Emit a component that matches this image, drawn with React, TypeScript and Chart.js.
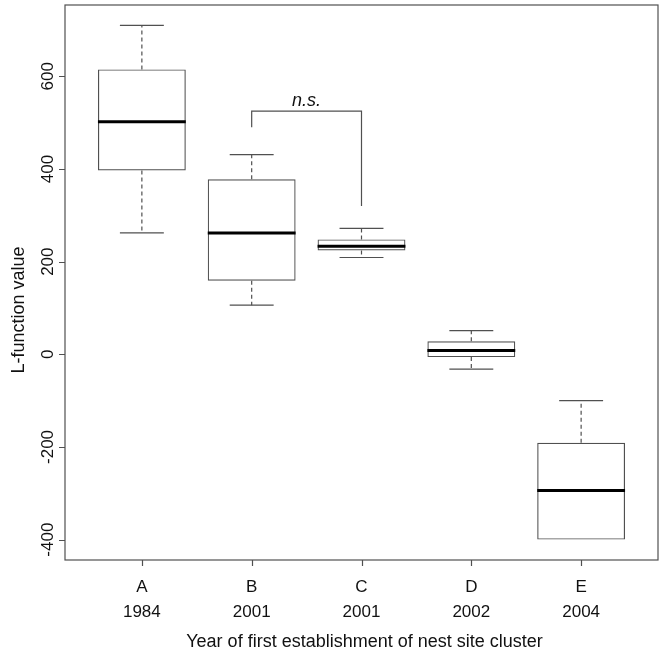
import React, { useEffect, useRef } from "react";
import { Chart, registerables } from "chart.js";

Chart.register(...registerables);

// ---- data ----
const categories = ["A", "B", "C", "D", "E"];
const years = ["1984", "2001", "2001", "2002", "2004"];
const whiskerLow = [262, 106, 209, -32, -400];
const lowerQuartile = [397, 159, 224, -6, -400];
const medianValue = [502, 262, 233, 8, -294];
const upperQuartile = [615, 378, 248, 28, -191];
const whiskerHigh = [710, 431, 272, 51, -100];

const yTickValues = [-400, -200, 0, 200, 400, 600];
const xTickPositions = [1, 2, 3, 4, 5];

// significance bracket between B (2) and C (3)
const bracketFrom = 2;
const bracketTo = 3;
const bracketTop = 525;
const bracketLeftEnd = 490;
const bracketRightEnd = 320;
const bracketLabel = "n.s.";
const bracketLabelValue = 537;

const xTitle = "Year of first establishment of nest site cluster";
const yTitle = "L-function value";

const LINE = "#505050";
const TEXT = "#111111";
const FONT = "'Liberation Sans', Arial, sans-serif";
const TICK_LEN = 6;

const rBoxPlugin = {
  id: "rBoxPlugin",
  afterDatasetsDraw(chart: any) {
    const { ctx, chartArea, scales } = chart;
    const x = scales.x;
    const y = scales.y;
    ctx.save();

    // whiskers, caps and medians
    categories.forEach((_, i) => {
      const pos = i + 1;
      const cx = x.getPixelForValue(pos);
      const capHalf = x.getPixelForValue(pos + 0.2) - cx;
      const boxHalf = x.getPixelForValue(pos + 0.4) - cx;
      const pLo = y.getPixelForValue(whiskerLow[i]);
      const pQ1 = y.getPixelForValue(lowerQuartile[i]);
      const pMed = y.getPixelForValue(medianValue[i]);
      const pQ3 = y.getPixelForValue(upperQuartile[i]);
      const pHi = y.getPixelForValue(whiskerHigh[i]);

      ctx.strokeStyle = LINE;
      ctx.lineWidth = 1.2;
      ctx.setLineDash([4, 3]);
      ctx.beginPath();
      if (whiskerHigh[i] !== upperQuartile[i]) {
        ctx.moveTo(cx, pQ3);
        ctx.lineTo(cx, pHi);
      }
      if (whiskerLow[i] !== lowerQuartile[i]) {
        ctx.moveTo(cx, pQ1);
        ctx.lineTo(cx, pLo);
      }
      ctx.stroke();
      ctx.setLineDash([]);
      ctx.beginPath();
      ctx.moveTo(cx - capHalf, pHi);
      ctx.lineTo(cx + capHalf, pHi);
      if (whiskerLow[i] !== lowerQuartile[i]) {
        ctx.moveTo(cx - capHalf, pLo);
        ctx.lineTo(cx + capHalf, pLo);
      }
      ctx.stroke();

      ctx.strokeStyle = "#000000";
      ctx.lineWidth = 3;
      ctx.beginPath();
      ctx.moveTo(cx - boxHalf, pMed);
      ctx.lineTo(cx + boxHalf, pMed);
      ctx.stroke();
    });

    // plot frame
    ctx.strokeStyle = LINE;
    ctx.lineWidth = 1.2;
    ctx.strokeRect(
      chartArea.left,
      chartArea.top,
      chartArea.right - chartArea.left,
      chartArea.bottom - chartArea.top
    );

    // tick marks
    ctx.beginPath();
    x.ticks.forEach((t: any) => {
      const px = Math.round(x.getPixelForValue(t.value)) + 0.5;
      ctx.moveTo(px, chartArea.bottom);
      ctx.lineTo(px, chartArea.bottom + TICK_LEN);
    });
    y.ticks.forEach((t: any) => {
      const py = Math.round(y.getPixelForValue(t.value)) + 0.5;
      ctx.moveTo(chartArea.left, py);
      ctx.lineTo(chartArea.left - TICK_LEN, py);
    });
    ctx.stroke();

    // bracket
    const bx1 = x.getPixelForValue(bracketFrom);
    const bx2 = x.getPixelForValue(bracketTo);
    const by = y.getPixelForValue(bracketTop);
    ctx.beginPath();
    ctx.moveTo(bx1, y.getPixelForValue(bracketLeftEnd));
    ctx.lineTo(bx1, by);
    ctx.lineTo(bx2, by);
    ctx.lineTo(bx2, y.getPixelForValue(bracketRightEnd));
    ctx.stroke();

    ctx.fillStyle = TEXT;
    ctx.font = `italic 18px ${FONT}`;
    ctx.textAlign = "center";
    ctx.textBaseline = "alphabetic";
    ctx.fillText(
      bracketLabel,
      x.getPixelForValue((bracketFrom + bracketTo) / 2),
      y.getPixelForValue(bracketLabelValue)
    );

    // y tick labels (rotated, R style)
    ctx.font = `17px ${FONT}`;
    y.ticks.forEach((t: any) => {
      ctx.save();
      ctx.translate(chartArea.left - 12, y.getPixelForValue(t.value));
      ctx.rotate(-Math.PI / 2);
      ctx.fillText(String(t.value), 0, 0);
      ctx.restore();
    });

    // x tick labels (two lines)
    x.ticks.forEach((t: any) => {
      const idx = Math.round(t.value) - 1;
      if (idx < 0 || idx >= categories.length) return;
      const px = x.getPixelForValue(t.value);
      ctx.fillText(categories[idx], px, chartArea.bottom + 32);
      ctx.fillText(years[idx], px, chartArea.bottom + 57);
    });

    // axis titles
    ctx.font = `18px ${FONT}`;
    ctx.fillText(xTitle, (chartArea.left + chartArea.right) / 2 + 3, chartArea.bottom + 87);
    ctx.save();
    ctx.translate(24, 310);
    ctx.rotate(-Math.PI / 2);
    ctx.fillText(yTitle, 0, 0);
    ctx.restore();

    ctx.restore();
  },
};

export default function App() {
  const canvasRef = useRef<HTMLCanvasElement | null>(null);

  useEffect(() => {
    document.body.style.margin = "0";
    const canvas = canvasRef.current;
    if (!canvas) return;
    const chart = new Chart(canvas, {
      type: "bar",
      data: {
        datasets: [
          {
            data: categories.map((_, i) => ({
              x: i + 1,
              y: [lowerQuartile[i], upperQuartile[i]],
            })) as any,
            backgroundColor: "rgba(255,255,255,0)",
            borderColor: LINE,
            borderWidth: 1.2,
            borderSkipped: false,
            barPercentage: 0.8,
            categoryPercentage: 1,
          },
        ],
      },
      options: {
        responsive: false,
        animation: false,
        events: [],
        layout: { padding: { top: 5, right: 6, left: 0, bottom: 0 } },
        plugins: {
          legend: { display: false },
          tooltip: { enabled: false },
        },
        scales: {
          x: {
            type: "linear",
            min: 0.3,
            max: 5.7,
            offset: false,
            ticks: { display: false },
            afterBuildTicks: (scale: any) => {
              scale.ticks = xTickPositions.map((v) => ({ value: v }));
            },
            grid: { display: false },
            border: { display: false },
            afterFit: (scale: any) => {
              scale.height = 92;
            },
          },
          y: {
            type: "linear",
            min: -444,
            max: 754,
            ticks: { display: false },
            afterBuildTicks: (scale: any) => {
              scale.ticks = yTickValues.map((v) => ({ value: v }));
            },
            grid: { display: false },
            border: { display: false },
            afterFit: (scale: any) => {
              scale.width = 65;
            },
          },
        },
      },
      plugins: [rBoxPlugin],
    });
    return () => chart.destroy();
  }, []);

  return (
    <div style={{ width: 664, height: 652, background: "#ffffff" }}>
      <canvas ref={canvasRef} width={664} height={652} />
    </div>
  );
}
